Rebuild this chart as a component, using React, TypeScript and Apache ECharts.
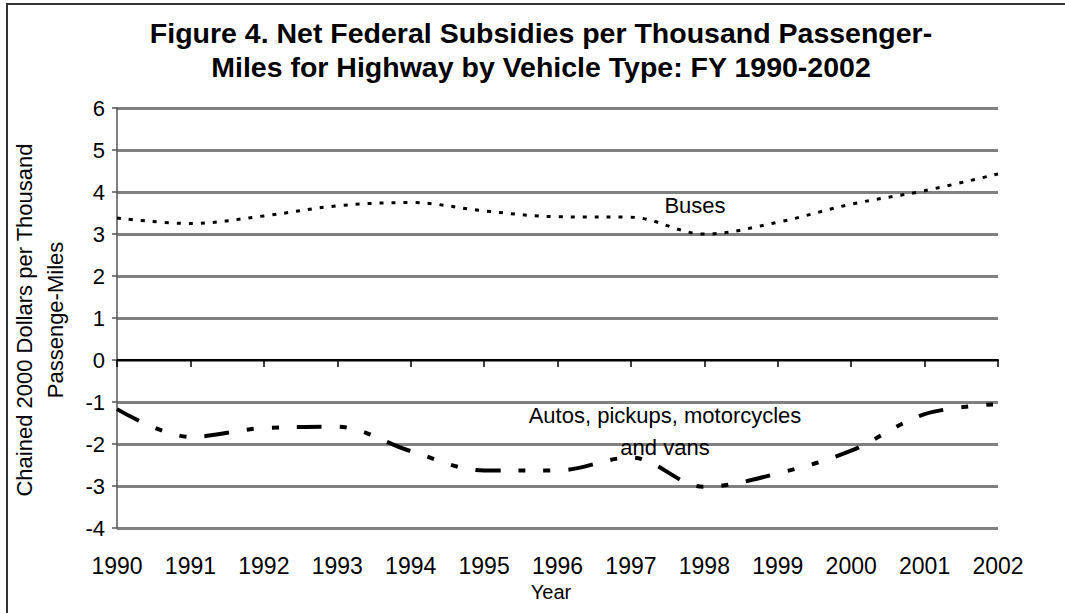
import React, { useEffect, useRef } from "react";
import * as echarts from "echarts";

const years = ["1990", "1991", "1992", "1993", "1994", "1995", "1996", "1997", "1998", "1999", "2000", "2001", "2002"];
const busesValues = [3.38, 3.25, 3.43, 3.67, 3.75, 3.55, 3.41, 3.40, 3.00, 3.28, 3.71, 4.03, 4.43];
const autosValues = [-1.17, -1.83, -1.62, -1.59, -2.17, -2.63, -2.63, -2.32, -3.02, -2.70, -2.16, -1.29, -1.05];
const yMin = -4;
const yMax = 6;
const yInterval = 1;

const titleLines = ["Figure 4. Net Federal Subsidies per Thousand Passenger-", "Miles for Highway by Vehicle Type: FY 1990-2002"];
const yAxisNameLines = ["Chained 2000 Dollars per Thousand", "Passenge-Miles"];
const xAxisName = "Year";
const busesLabel = "Buses";
const autosLabelLines = ["Autos, pickups, motorcycles", "and vans"];

const FONT = "'Liberation Sans', Arial, sans-serif";

export default function App() {
  const ref = useRef<HTMLDivElement>(null);
  useEffect(() => {
    document.body.style.margin = "0";
    if (!ref.current) return;
    const chart = echarts.init(ref.current, null, { renderer: "svg" });
    chart.setOption({
      animation: false,
      backgroundColor: "#fff",
      grid: { left: 117, right: 67, top: 108, bottom: 85, containLabel: false },
      xAxis: [
        {
          type: "category",
          data: years,
          boundaryGap: false,
          position: "bottom",
          axisLine: { show: false, onZero: false },
          axisTick: { show: false },
          axisLabel: { fontSize: 23, color: "#000", margin: 26, fontFamily: FONT, interval: 0 },
          splitLine: { show: false },
        },
        {
          type: "category",
          data: years,
          boundaryGap: false,
          position: "bottom",
          axisLine: { show: true, onZero: true, onZeroAxisIndex: 0, lineStyle: { color: "#000", width: 2 } },
          axisTick: { show: true, length: 7, inside: false, interval: 0, lineStyle: { color: "#000", width: 1.5 } },
          axisLabel: { show: false },
          splitLine: { show: false },
        },
      ],
      yAxis: {
        type: "value",
        min: yMin,
        max: yMax,
        interval: yInterval,
        axisLine: { show: true, lineStyle: { color: "#555", width: 1.5 } },
        axisTick: { show: true, length: 5, lineStyle: { color: "#555", width: 1.5 } },
        axisLabel: { fontSize: 22, color: "#000", margin: 12, fontFamily: FONT },
        splitLine: { show: true, lineStyle: { color: "#808080", width: 3 } },
      },
      series: [
        {
          name: "Buses",
          type: "line",
          data: busesValues,
          xAxisIndex: 0,
          smooth: 0.35,
          symbol: "none",
          lineStyle: { color: "#000", width: 3, type: [4, 8], cap: "butt" },
          z: 5,
        },
        {
          name: "Autos, pickups, motorcycles and vans",
          type: "line",
          data: autosValues,
          xAxisIndex: 0,
          smooth: 0.35,
          symbol: "none",
          lineStyle: { color: "#000", width: 4, type: [25, 18, 7, 18, 7, 18], cap: "butt" },
          z: 5,
        },
      ],
      graphic: [
        {
          type: "rect",
          shape: { x: 7, y: 4, width: 1200, height: 800 },
          style: { fill: "none", stroke: "#333", lineWidth: 2 },
          silent: true,
        },
        {
          type: "text",
          x: 541,
          y: 50,
          style: {
            text: titleLines.join("\n"),
            fontSize: 28.5,
            fontWeight: "bold",
            fontFamily: FONT,
            fill: "#000",
            align: "center",
            verticalAlign: "middle",
            textAlign: "center",
            textVerticalAlign: "middle",
            lineHeight: 34,
          },
        },
        {
          type: "text",
          x: 40,
          y: 320,
          rotation: Math.PI / 2,
          style: {
            text: yAxisNameLines.join("\n"),
            fontSize: 22,
            fontFamily: FONT,
            fill: "#000",
            align: "center",
            verticalAlign: "middle",
            textAlign: "center",
            textVerticalAlign: "middle",
            lineHeight: 31,
          },
        },
        {
          type: "text",
          x: 551,
          y: 592,
          style: {
            text: xAxisName,
            fontSize: 20,
            fontFamily: FONT,
            fill: "#000",
            align: "center",
            verticalAlign: "middle",
            textAlign: "center",
            textVerticalAlign: "middle",
          },
        },
        {
          type: "text",
          x: 695,
          y: 205,
          z: 10,
          style: {
            text: busesLabel,
            fontSize: 22,
            fontFamily: FONT,
            fill: "#000",
            align: "center",
            verticalAlign: "middle",
            textAlign: "center",
            textVerticalAlign: "middle",
          },
        },
        {
          type: "text",
          x: 665,
          y: 431,
          z: 10,
          style: {
            text: autosLabelLines.join("\n"),
            fontSize: 22,
            fontFamily: FONT,
            fill: "#000",
            align: "center",
            verticalAlign: "middle",
            textAlign: "center",
            textVerticalAlign: "middle",
            lineHeight: 32,
          },
        },
      ],
    });
    return () => chart.dispose();
  }, []);
  return <div ref={ref} style={{ width: 1065, height: 613 }} />;
}
